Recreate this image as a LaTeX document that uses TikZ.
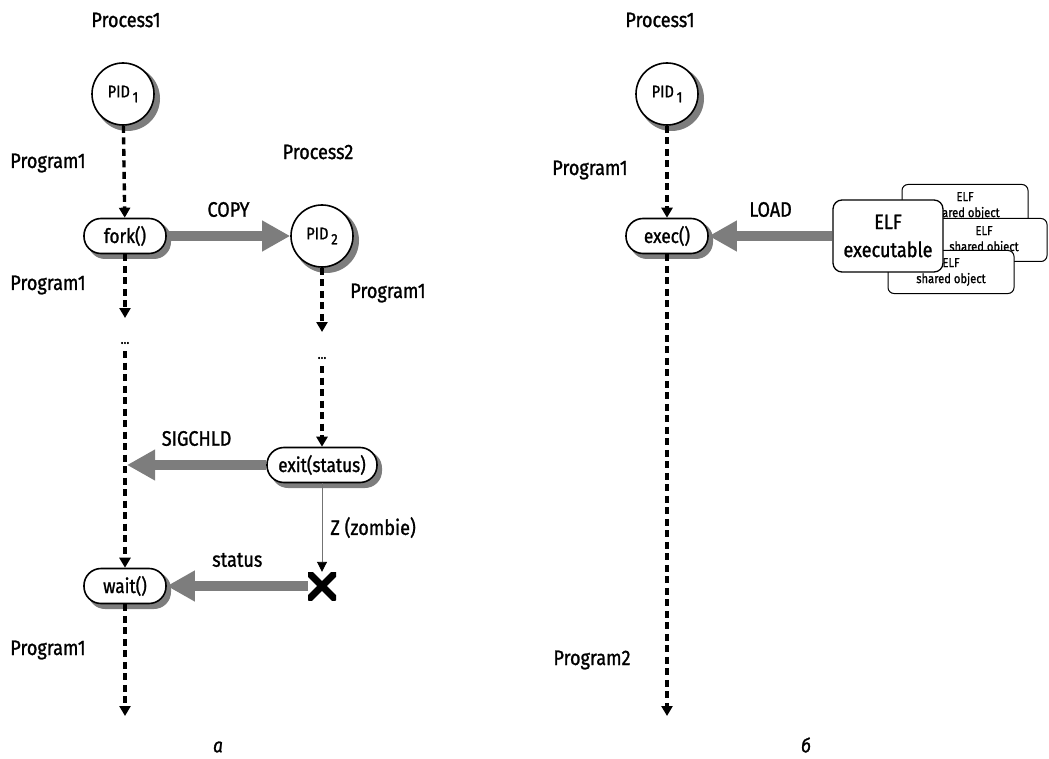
\documentclass[tikz,border=0pt]{standalone}
\usepackage{fontspec}
\setmainfont{Fira Sans}[FakeStretch=0.86,FakeBold=1.2]
\usetikzlibrary{arrows.meta}
\definecolor{bigray}{RGB}{125,125,125}
\definecolor{shadowgray}{RGB}{125,125,125}
\newcommand\pidsub[1]{\,\raisebox{-0.55ex}{\fontsize{15}{15}\selectfont #1}}
\begin{document}
\begin{tikzpicture}[x=1pt,y=-1pt,
  lbl/.style={font=\fontsize{21}{23}\selectfont, inner sep=0pt},
  pidnode/.style={circle, draw, line width=1.6pt, fill=white, minimum size=62pt,
    inner sep=0pt, font=\fontsize{17}{19}\selectfont},
  callnode/.style={rectangle, rounded corners=17pt, draw, line width=1.6pt, fill=white,
    minimum height=35pt, minimum width=82pt, inner sep=3pt,
    font=\fontsize{20}{22}\selectfont},
  shadowfill/.style={fill=shadowgray},
  sobox/.style={rectangle, rounded corners=6pt, draw, line width=1pt, fill=white,
    minimum width=126pt, minimum height=43pt, inner sep=0pt, align=center,
    font=\fontsize{13}{16}\selectfont},
  exebox/.style={rectangle, rounded corners=9pt, draw, line width=1.3pt, fill=white,
    minimum width=110pt, minimum height=72pt, inner sep=0pt, align=center,
    font=\fontsize{21}{28}\selectfont},
  dots/.style={inner sep=1pt, font=\fontsize{14}{14}\selectfont},
  flow/.style={line width=3.4pt, dash pattern=on 7pt off 4.5pt,
    -{Triangle[length=10pt,width=11pt]}},
  bigarrow/.style={line width=10pt, draw=bigray,
    -{Triangle[length=28pt,width=29pt,fill=bigray]}},
  thinflow/.style={line width=0.9pt, draw=black!55,
    -{Triangle[length=10pt,width=10pt,color=black,fill=black]}},
  xmark/.style={minimum size=28pt, inner sep=0pt,
    path picture={\draw[line width=7pt]
      (path picture bounding box.south west) -- (path picture bounding box.north east)
      (path picture bounding box.north west) -- (path picture bounding box.south east);}},
  caption/.style={inner sep=0pt, font=\fontsize{20}{22}\selectfont\itshape},
]
\useasboundingbox (0,0) rectangle (1049,759);

% grey shadows, drawn first so that the white shapes sit on them
\fill[shadowfill] (127.5,98.5) circle[radius=32.5pt];
\fill[shadowfill] (326.5,240.5) circle[radius=32.5pt];
\fill[shadowfill] (671.5,98.5) circle[radius=32.5pt];
\fill[shadowfill, rounded corners=17pt] (88,222) rectangle (171,259);
\fill[shadowfill, rounded corners=17pt] (88,572) rectangle (171,609);
\fill[shadowfill, rounded corners=17pt] (271,451) rectangle (382,488);
\fill[shadowfill, rounded corners=17pt] (630,222) rectangle (713,259);

% ---------- left part: fork / exit / wait ----------
\node[lbl] (procA) at (126,20) {Process1};
\node[pidnode] (pidA) at (123,94) {PID\pidsub{1}};
\node[lbl] (progA1) at (48,163) {Program1};
\node[callnode] (fork) at (125,236) {fork()};
\node[lbl] (progA2) at (48,285) {Program1};
\coordinate (tipA) at (125,318);
\node[dots] (dotsA) at (125,343) {{.}{.}{.}};
\node[callnode] (wait) at (125,586) {wait()};
\node[lbl] (progA3) at (48,650) {Program1};
\coordinate (endA) at (125,716);

\node[lbl] (procB) at (318,152) {Process2};
\node[pidnode] (pidB) at (322,236) {PID\pidsub{2}};
\node[lbl] (progB1) at (388,293) {Program1};
\coordinate (tipB) at (322,332);
\node[dots] (dotsB) at (322,358) {{.}{.}{.}};
\node[callnode, minimum width=110pt] (exit) at (322,465) {exit(status)};
\node[xmark] (zomb) at (322,586) {};
\coordinate (sig) at (127,465);

\draw[flow] (pidA) -- (fork);
\draw[flow] (fork) -- (tipA);
\draw[flow, shorten <=6pt] (dotsA) -- (wait);
\draw[flow] (wait) -- (endA);
\draw[flow] (pidB) -- (tipB);
\draw[flow, shorten <=6pt] (dotsB) -- (exit);

\draw[bigarrow] (fork) -- node[lbl, above=14pt] (copyl) {COPY} (pidB);
\draw[bigarrow] (exit) -- node[lbl, above=14pt] (sigl) {SIGCHLD} (sig);
\draw[thinflow] (exit) -- node[lbl, right=8pt] (zl) {Z (zombie)} (zomb);
\draw[bigarrow] (zomb) -- node[lbl, above=14pt] (stl) {status} (wait);

\node[caption] (capA) at (218,747) {а};

% ---------- right part: exec ----------
\node[lbl] (procC) at (660,20) {Process1};
\node[pidnode] (pidC) at (667,94) {PID\pidsub{1}};
\node[lbl] (progC1) at (590,170) {Program1};
\node[callnode] (exec) at (667,236) {exec()};
\node[lbl] (progC2) at (592,660) {Program2};
\coordinate (endC) at (667,716);

\node[sobox] (so1) at (965,206) {ELF\\shared object};
\node[sobox] (so2) at (984,240) {ELF\\shared object};
\node[sobox] (so3) at (951,272) {ELF\\shared object};
\node[exebox] (exe) at (888,236) {ELF\\executable};

\draw[flow] (pidC) -- (exec);
\draw[flow] (exec) -- (endC);
\draw[bigarrow] (exe) -- node[lbl, above=14pt] (loadl) {LOAD} (exec);

\node[caption] (capB) at (806,745) {б};
\end{tikzpicture}
\end{document}
